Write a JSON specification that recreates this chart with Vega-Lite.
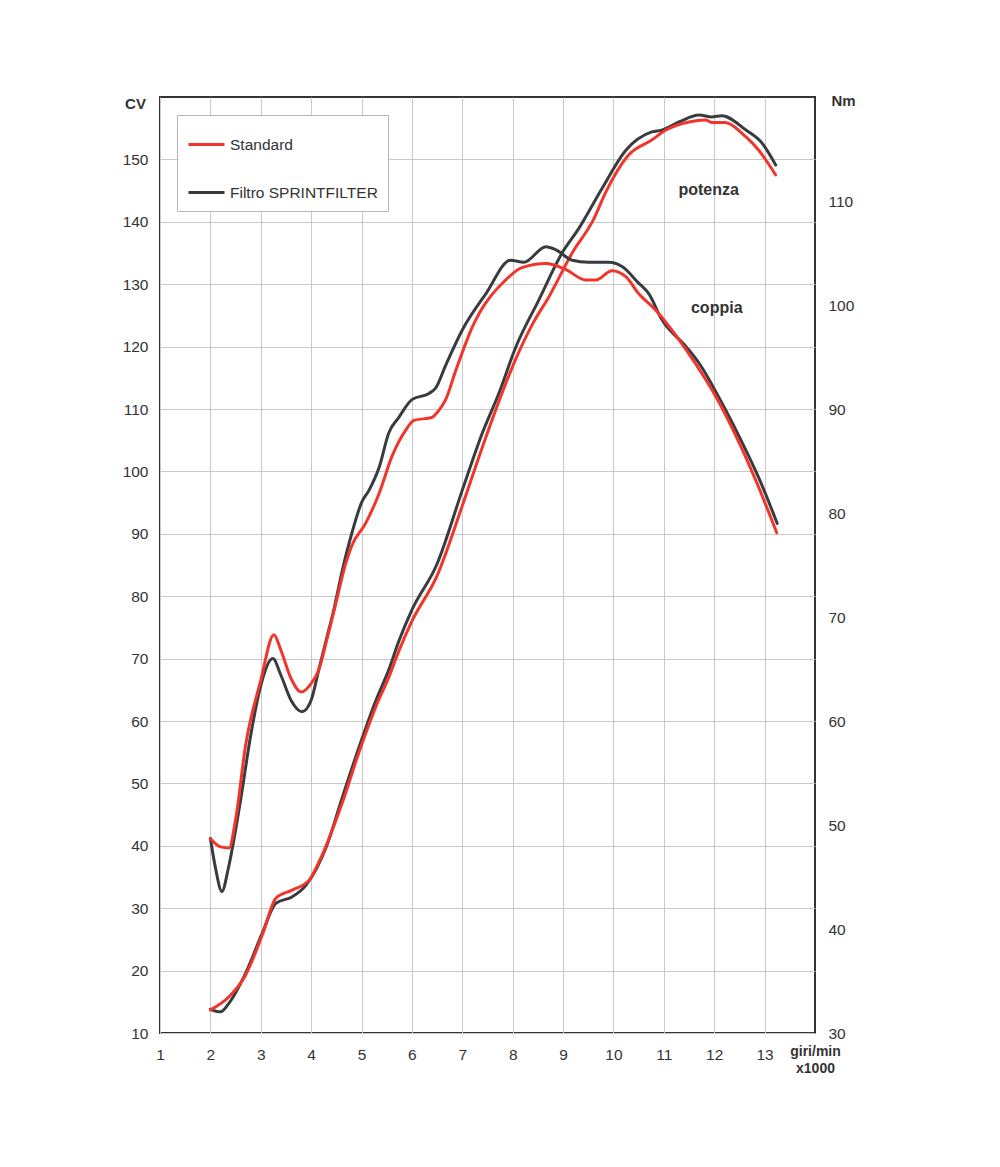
{
  "$schema": "https://vega.github.io/schema/vega-lite/v6.json",
  "width": 655,
  "height": 936,
  "autosize": {"type": "none"},
  "padding": {"left": 160, "top": 97, "right": 185, "bottom": 134},
  "background": "white",
  "config": {
    "view": {"stroke": "#333333", "strokeWidth": 2},
    "font": "Liberation Sans",
    "axis": {
      "labelFont": "Liberation Sans",
      "labelFontSize": 15.5,
      "labelColor": "#333333",
      "labelFlush": false,
      "ticks": false,
      "domain": false,
      "gridColor": "#c8c8c8",
      "gridWidth": 1,
      "titleFont": "Liberation Sans",
      "titleFontWeight": "bold",
      "titleColor": "#333333"
    }
  },
  "datasets": {
    "power": [
      {"rpm": 2.0, "cv": 13.8, "series": "Filtro SPRINTFILTER"},
      {"rpm": 2.2, "cv": 13.4, "series": "Filtro SPRINTFILTER"},
      {"rpm": 2.37, "cv": 14.8, "series": "Filtro SPRINTFILTER"},
      {"rpm": 2.7, "cv": 19.6, "series": "Filtro SPRINTFILTER"},
      {"rpm": 3.03, "cv": 26.0, "series": "Filtro SPRINTFILTER"},
      {"rpm": 3.3, "cv": 30.8, "series": "Filtro SPRINTFILTER"},
      {"rpm": 3.62, "cv": 31.8, "series": "Filtro SPRINTFILTER"},
      {"rpm": 3.9, "cv": 33.7, "series": "Filtro SPRINTFILTER"},
      {"rpm": 4.3, "cv": 39.8, "series": "Filtro SPRINTFILTER"},
      {"rpm": 4.62, "cv": 47.8, "series": "Filtro SPRINTFILTER"},
      {"rpm": 4.95, "cv": 55.8, "series": "Filtro SPRINTFILTER"},
      {"rpm": 5.29, "cv": 63.4, "series": "Filtro SPRINTFILTER"},
      {"rpm": 5.54, "cv": 68.2, "series": "Filtro SPRINTFILTER"},
      {"rpm": 5.74, "cv": 72.8, "series": "Filtro SPRINTFILTER"},
      {"rpm": 6.0, "cv": 77.8, "series": "Filtro SPRINTFILTER"},
      {"rpm": 6.5, "cv": 85.2, "series": "Filtro SPRINTFILTER"},
      {"rpm": 7.0, "cv": 97.0, "series": "Filtro SPRINTFILTER"},
      {"rpm": 7.39, "cv": 106.0, "series": "Filtro SPRINTFILTER"},
      {"rpm": 7.73, "cv": 112.6, "series": "Filtro SPRINTFILTER"},
      {"rpm": 8.06, "cv": 119.9, "series": "Filtro SPRINTFILTER"},
      {"rpm": 8.52, "cv": 127.5, "series": "Filtro SPRINTFILTER"},
      {"rpm": 8.98, "cv": 135.0, "series": "Filtro SPRINTFILTER"},
      {"rpm": 9.31, "cv": 138.9, "series": "Filtro SPRINTFILTER"},
      {"rpm": 9.77, "cv": 145.3, "series": "Filtro SPRINTFILTER"},
      {"rpm": 10.25, "cv": 151.5, "series": "Filtro SPRINTFILTER"},
      {"rpm": 10.76, "cv": 154.4, "series": "Filtro SPRINTFILTER"},
      {"rpm": 10.96, "cv": 154.7, "series": "Filtro SPRINTFILTER"},
      {"rpm": 11.3, "cv": 156.0, "series": "Filtro SPRINTFILTER"},
      {"rpm": 11.7, "cv": 157.1, "series": "Filtro SPRINTFILTER"},
      {"rpm": 11.95, "cv": 156.8, "series": "Filtro SPRINTFILTER"},
      {"rpm": 12.15, "cv": 157.0, "series": "Filtro SPRINTFILTER"},
      {"rpm": 12.63, "cv": 154.7, "series": "Filtro SPRINTFILTER"},
      {"rpm": 12.95, "cv": 152.6, "series": "Filtro SPRINTFILTER"},
      {"rpm": 13.22, "cv": 149.1, "series": "Filtro SPRINTFILTER"},
      {"rpm": 2.0, "cv": 13.7, "series": "Standard"},
      {"rpm": 2.37, "cv": 15.8, "series": "Standard"},
      {"rpm": 2.7, "cv": 19.3, "series": "Standard"},
      {"rpm": 3.03, "cv": 25.7, "series": "Standard"},
      {"rpm": 3.3, "cv": 31.6, "series": "Standard"},
      {"rpm": 3.62, "cv": 32.9, "series": "Standard"},
      {"rpm": 3.96, "cv": 34.5, "series": "Standard"},
      {"rpm": 4.2, "cv": 38.2, "series": "Standard"},
      {"rpm": 4.6, "cv": 46.5, "series": "Standard"},
      {"rpm": 4.95, "cv": 55.0, "series": "Standard"},
      {"rpm": 5.29, "cv": 62.4, "series": "Standard"},
      {"rpm": 5.54, "cv": 67.0, "series": "Standard"},
      {"rpm": 5.74, "cv": 71.2, "series": "Standard"},
      {"rpm": 6.0, "cv": 76.0, "series": "Standard"},
      {"rpm": 6.5, "cv": 83.3, "series": "Standard"},
      {"rpm": 7.0, "cv": 94.5, "series": "Standard"},
      {"rpm": 7.33, "cv": 102.3, "series": "Standard"},
      {"rpm": 7.67, "cv": 110.0, "series": "Standard"},
      {"rpm": 8.06, "cv": 118.0, "series": "Standard"},
      {"rpm": 8.42, "cv": 124.0, "series": "Standard"},
      {"rpm": 8.72, "cv": 128.0, "series": "Standard"},
      {"rpm": 9.18, "cv": 135.0, "series": "Standard"},
      {"rpm": 9.6, "cv": 140.3, "series": "Standard"},
      {"rpm": 9.85, "cv": 144.8, "series": "Standard"},
      {"rpm": 10.3, "cv": 150.7, "series": "Standard"},
      {"rpm": 10.76, "cv": 153.1, "series": "Standard"},
      {"rpm": 11.04, "cv": 154.7, "series": "Standard"},
      {"rpm": 11.5, "cv": 156.0, "series": "Standard"},
      {"rpm": 11.83, "cv": 156.3, "series": "Standard"},
      {"rpm": 11.95, "cv": 155.9, "series": "Standard"},
      {"rpm": 12.2, "cv": 155.9, "series": "Standard"},
      {"rpm": 12.63, "cv": 153.6, "series": "Standard"},
      {"rpm": 12.88, "cv": 151.5, "series": "Standard"},
      {"rpm": 13.22, "cv": 147.5, "series": "Standard"}
    ],
    "torque": [
      {"rpm": 2.0, "nm": 48.7, "series": "Filtro SPRINTFILTER"},
      {"rpm": 2.1, "nm": 45.9, "series": "Filtro SPRINTFILTER"},
      {"rpm": 2.23, "nm": 43.6, "series": "Filtro SPRINTFILTER"},
      {"rpm": 2.35, "nm": 45.7, "series": "Filtro SPRINTFILTER"},
      {"rpm": 2.5, "nm": 49.5, "series": "Filtro SPRINTFILTER"},
      {"rpm": 2.6, "nm": 52.4, "series": "Filtro SPRINTFILTER"},
      {"rpm": 2.8, "nm": 58.6, "series": "Filtro SPRINTFILTER"},
      {"rpm": 3.0, "nm": 63.4, "series": "Filtro SPRINTFILTER"},
      {"rpm": 3.24, "nm": 66.0, "series": "Filtro SPRINTFILTER"},
      {"rpm": 3.4, "nm": 64.4, "series": "Filtro SPRINTFILTER"},
      {"rpm": 3.6, "nm": 62.0, "series": "Filtro SPRINTFILTER"},
      {"rpm": 3.82, "nm": 60.9, "series": "Filtro SPRINTFILTER"},
      {"rpm": 4.0, "nm": 62.0, "series": "Filtro SPRINTFILTER"},
      {"rpm": 4.15, "nm": 64.9, "series": "Filtro SPRINTFILTER"},
      {"rpm": 4.3, "nm": 67.8, "series": "Filtro SPRINTFILTER"},
      {"rpm": 4.45, "nm": 70.7, "series": "Filtro SPRINTFILTER"},
      {"rpm": 4.61, "nm": 74.3, "series": "Filtro SPRINTFILTER"},
      {"rpm": 4.81, "nm": 78.1, "series": "Filtro SPRINTFILTER"},
      {"rpm": 5.0, "nm": 81.0, "series": "Filtro SPRINTFILTER"},
      {"rpm": 5.15, "nm": 82.2, "series": "Filtro SPRINTFILTER"},
      {"rpm": 5.35, "nm": 84.4, "series": "Filtro SPRINTFILTER"},
      {"rpm": 5.54, "nm": 87.7, "series": "Filtro SPRINTFILTER"},
      {"rpm": 5.74, "nm": 89.2, "series": "Filtro SPRINTFILTER"},
      {"rpm": 6.0, "nm": 90.9, "series": "Filtro SPRINTFILTER"},
      {"rpm": 6.34, "nm": 91.5, "series": "Filtro SPRINTFILTER"},
      {"rpm": 6.47, "nm": 92.0, "series": "Filtro SPRINTFILTER"},
      {"rpm": 6.67, "nm": 94.2, "series": "Filtro SPRINTFILTER"},
      {"rpm": 7.0, "nm": 97.6, "series": "Filtro SPRINTFILTER"},
      {"rpm": 7.47, "nm": 101.1, "series": "Filtro SPRINTFILTER"},
      {"rpm": 7.96, "nm": 104.3, "series": "Filtro SPRINTFILTER"},
      {"rpm": 8.22, "nm": 104.1, "series": "Filtro SPRINTFILTER"},
      {"rpm": 8.66, "nm": 105.6, "series": "Filtro SPRINTFILTER"},
      {"rpm": 8.86, "nm": 105.3, "series": "Filtro SPRINTFILTER"},
      {"rpm": 9.18, "nm": 104.3, "series": "Filtro SPRINTFILTER"},
      {"rpm": 9.5, "nm": 104.1, "series": "Filtro SPRINTFILTER"},
      {"rpm": 9.9, "nm": 104.1, "series": "Filtro SPRINTFILTER"},
      {"rpm": 10.17, "nm": 103.7, "series": "Filtro SPRINTFILTER"},
      {"rpm": 10.5, "nm": 102.1, "series": "Filtro SPRINTFILTER"},
      {"rpm": 10.7, "nm": 101.1, "series": "Filtro SPRINTFILTER"},
      {"rpm": 10.96, "nm": 98.6, "series": "Filtro SPRINTFILTER"},
      {"rpm": 11.44, "nm": 96.0, "series": "Filtro SPRINTFILTER"},
      {"rpm": 11.7, "nm": 94.4, "series": "Filtro SPRINTFILTER"},
      {"rpm": 12.15, "nm": 90.6, "series": "Filtro SPRINTFILTER"},
      {"rpm": 12.5, "nm": 87.3, "series": "Filtro SPRINTFILTER"},
      {"rpm": 12.9, "nm": 83.2, "series": "Filtro SPRINTFILTER"},
      {"rpm": 13.25, "nm": 79.0, "series": "Filtro SPRINTFILTER"},
      {"rpm": 2.0, "nm": 48.7, "series": "Standard"},
      {"rpm": 2.2, "nm": 47.9, "series": "Standard"},
      {"rpm": 2.37, "nm": 47.8, "series": "Standard"},
      {"rpm": 2.5, "nm": 50.5, "series": "Standard"},
      {"rpm": 2.7, "nm": 57.7, "series": "Standard"},
      {"rpm": 3.0, "nm": 63.9, "series": "Standard"},
      {"rpm": 3.26, "nm": 68.3, "series": "Standard"},
      {"rpm": 3.4, "nm": 66.8, "series": "Standard"},
      {"rpm": 3.6, "nm": 64.1, "series": "Standard"},
      {"rpm": 3.8, "nm": 62.8, "series": "Standard"},
      {"rpm": 4.0, "nm": 63.6, "series": "Standard"},
      {"rpm": 4.15, "nm": 64.9, "series": "Standard"},
      {"rpm": 4.3, "nm": 67.6, "series": "Standard"},
      {"rpm": 4.45, "nm": 70.5, "series": "Standard"},
      {"rpm": 4.69, "nm": 75.2, "series": "Standard"},
      {"rpm": 4.81, "nm": 76.9, "series": "Standard"},
      {"rpm": 5.08, "nm": 79.0, "series": "Standard"},
      {"rpm": 5.35, "nm": 81.9, "series": "Standard"},
      {"rpm": 5.6, "nm": 85.4, "series": "Standard"},
      {"rpm": 5.88, "nm": 88.0, "series": "Standard"},
      {"rpm": 6.04, "nm": 88.9, "series": "Standard"},
      {"rpm": 6.4, "nm": 89.2, "series": "Standard"},
      {"rpm": 6.54, "nm": 89.9, "series": "Standard"},
      {"rpm": 6.67, "nm": 90.9, "series": "Standard"},
      {"rpm": 6.87, "nm": 93.7, "series": "Standard"},
      {"rpm": 7.2, "nm": 97.9, "series": "Standard"},
      {"rpm": 7.86, "nm": 102.4, "series": "Standard"},
      {"rpm": 8.18, "nm": 103.6, "series": "Standard"},
      {"rpm": 8.66, "nm": 104.0, "series": "Standard"},
      {"rpm": 9.06, "nm": 103.4, "series": "Standard"},
      {"rpm": 9.45, "nm": 102.4, "series": "Standard"},
      {"rpm": 9.65, "nm": 102.4, "series": "Standard"},
      {"rpm": 9.97, "nm": 103.3, "series": "Standard"},
      {"rpm": 10.25, "nm": 102.7, "series": "Standard"},
      {"rpm": 10.5, "nm": 101.1, "series": "Standard"},
      {"rpm": 10.84, "nm": 99.5, "series": "Standard"},
      {"rpm": 11.44, "nm": 95.7, "series": "Standard"},
      {"rpm": 12.1, "nm": 90.6, "series": "Standard"},
      {"rpm": 12.5, "nm": 86.7, "series": "Standard"},
      {"rpm": 12.88, "nm": 82.5, "series": "Standard"},
      {"rpm": 13.24, "nm": 78.1, "series": "Standard"}
    ],
    "labels": [
      {"rpm": 11.89, "cv": 145.1, "label": "potenza"},
      {"rpm": 12.05, "cv": 126.2, "label": "coppia"}
    ]
  },
  "layer": [
    {
      "layer": [
        {
          "data": {"name": "power"},
          "mark": {"type": "line", "interpolate": "monotone", "strokeWidth": 3, "strokeCap": "round"},
          "encoding": {
            "x": {
              "field": "rpm", "type": "quantitative",
              "scale": {"domain": [1, 14], "nice": false, "zero": false},
              "axis": {
                "values": [1, 2, 3, 4, 5, 6, 7, 8, 9, 10, 11, 12, 13],
                "grid": true,
                "labelPadding": 14,
                "labelFlush": false,
                "title": ["giri/min", "x1000"],
                "titleFontSize": 14,
                "titleX": 655,
                "titleY": 11,
                "titleAlign": "center",
                "titleBaseline": "top",
                "titleLineHeight": 17
              }
            },
            "y": {
              "field": "cv", "type": "quantitative",
              "scale": {"domain": [10, 160], "nice": false, "zero": false},
              "axis": {
                "values": [10, 20, 30, 40, 50, 60, 70, 80, 90, 100, 110, 120, 130, 140, 150],
                "grid": true,
                "labelPadding": 12,
                "title": "CV",
                "titleFontSize": 15,
                "titleAngle": 0,
                "titleX": -25,
                "titleY": 6,
                "titleAlign": "center",
                "titleBaseline": "middle"
              }
            },
            "color": {
              "field": "series", "type": "nominal",
              "scale": {"domain": ["Standard", "Filtro SPRINTFILTER"], "range": ["#f2352b", "#383c3f"]},
              "legend": {
                "orient": "none",
                "legendX": 17,
                "legendY": 18,
                "title": null,
                "symbolType": "stroke",
                "symbolSize": 1296,
                "symbolStrokeWidth": 3,
                "labelFontSize": 15.5,
                "labelFont": "Liberation Sans",
                "labelColor": "#333333",
                "labelOffset": 4,
                "rowPadding": 20,
                "padding": 10,
                "fillColor": "white",
                "strokeColor": "#b5b5b5"
              }
            }
          }
        },
        {
          "data": {"name": "labels"},
          "mark": {"type": "text", "fontWeight": "bold", "fontSize": 16, "color": "#333333", "font": "Liberation Sans"},
          "encoding": {
            "x": {"field": "rpm", "type": "quantitative"},
            "y": {"field": "cv", "type": "quantitative"},
            "text": {"field": "label"}
          }
        }
      ]
    },
    {
      "data": {"name": "torque"},
      "mark": {"type": "line", "interpolate": "monotone", "strokeWidth": 3, "strokeCap": "round"},
      "encoding": {
        "x": {"field": "rpm", "type": "quantitative"},
        "y": {
          "field": "nm", "type": "quantitative",
          "scale": {"domain": [30, 120], "nice": false, "zero": false},
          "axis": {
            "orient": "right",
            "values": [30, 40, 50, 60, 70, 80, 90, 100, 110],
            "grid": false,
            "labelPadding": 13,
            "title": "Nm",
            "titleFontSize": 15,
            "titleAngle": 0,
            "titleX": 28,
            "titleY": 3,
            "titleAlign": "center",
            "titleBaseline": "middle"
          }
        },
        "color": {"field": "series", "type": "nominal"}
      }
    }
  ],
  "resolve": {"scale": {"y": "independent"}}
}
